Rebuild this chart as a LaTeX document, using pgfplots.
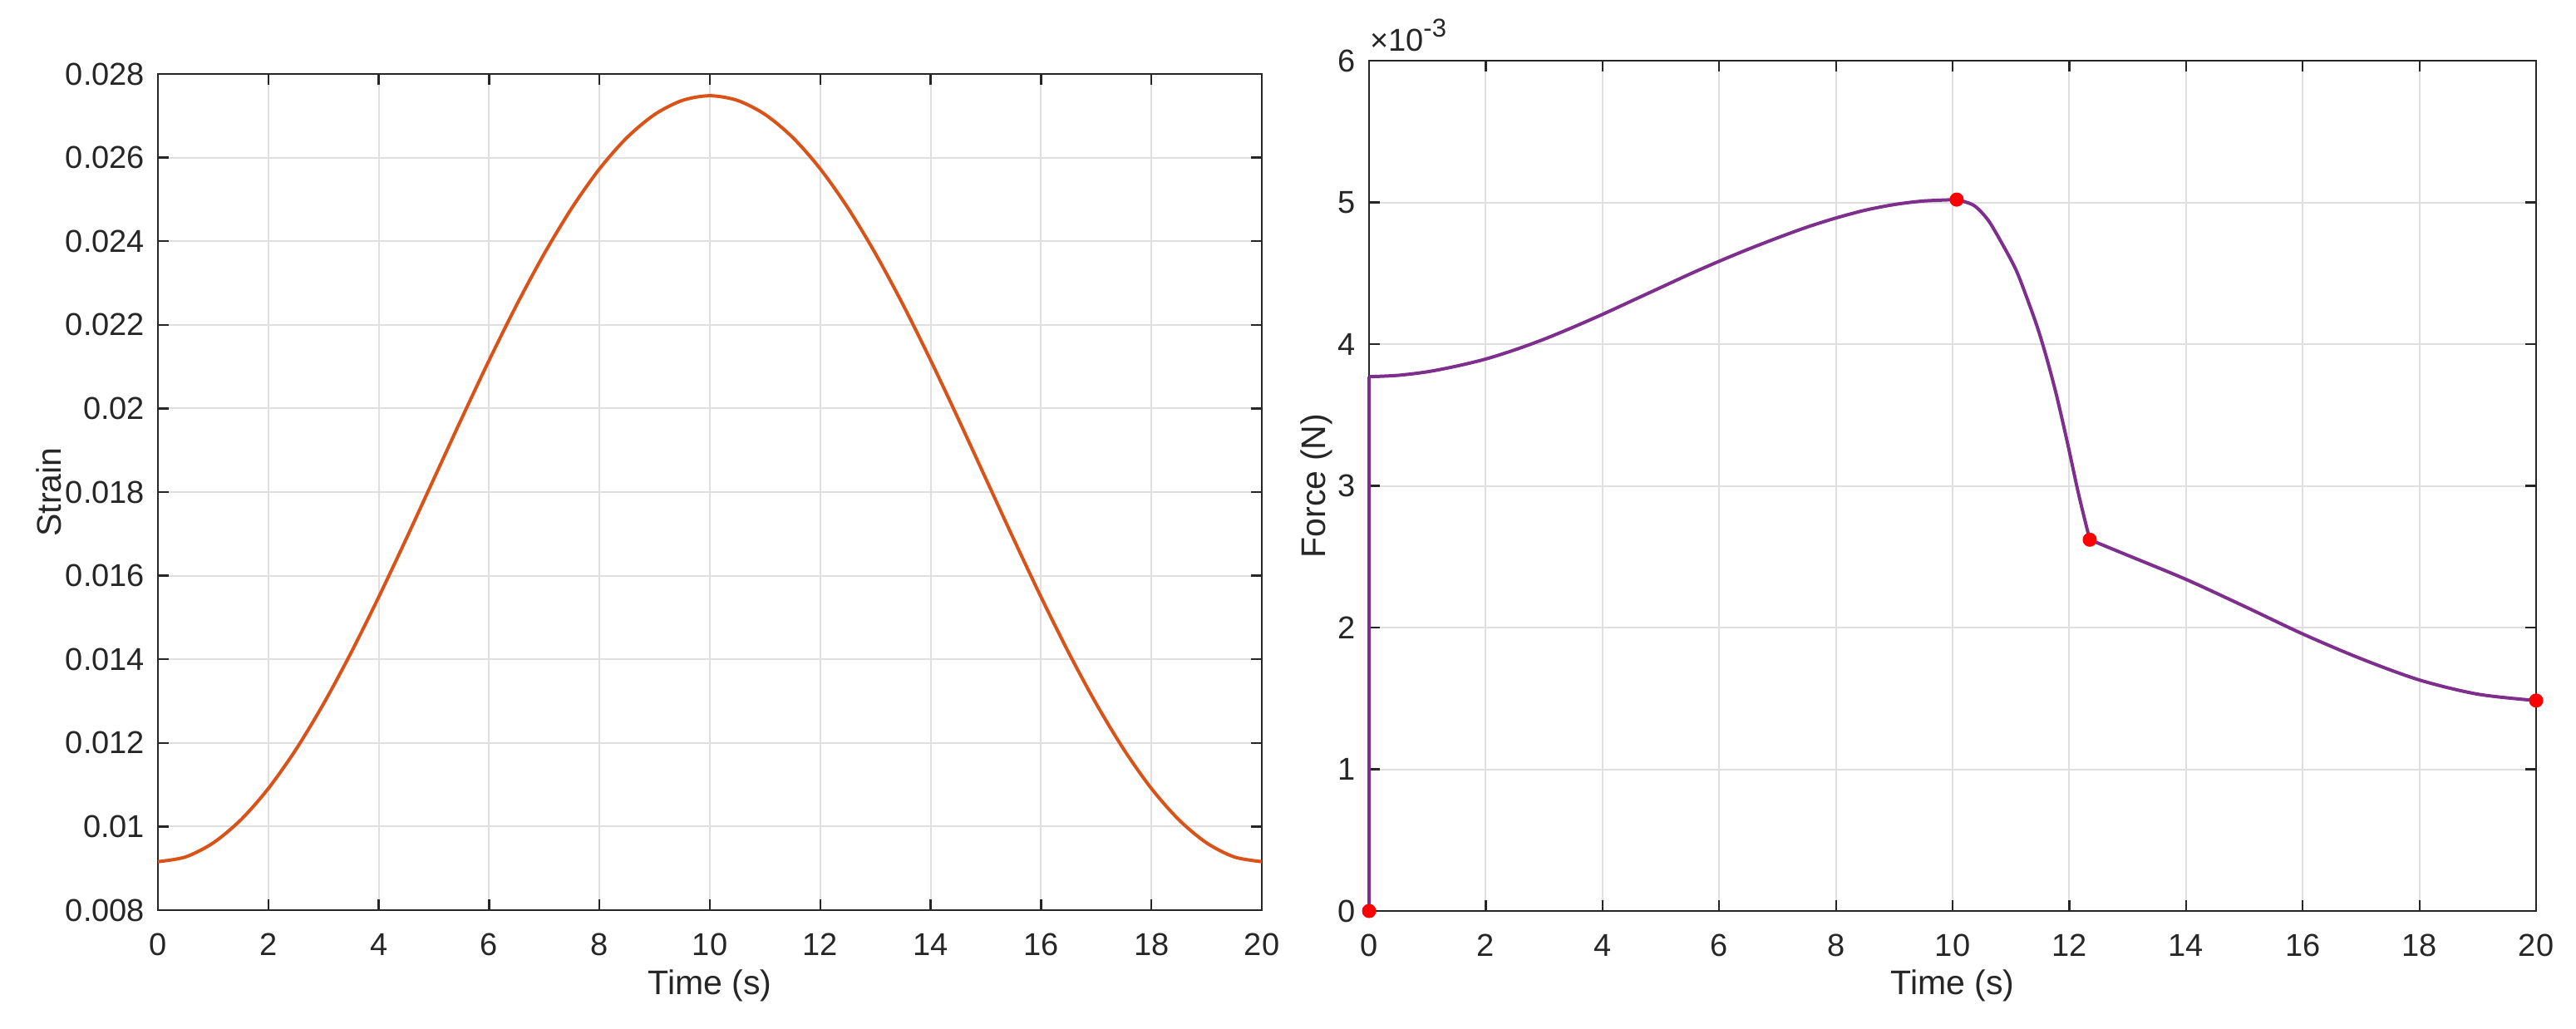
\documentclass[border=0pt]{standalone}
\usepackage{fontspec}
\setmainfont{Liberation Sans}
\usepackage{pgfplots}
\pgfplotsset{compat=1.18}
\definecolor{txt}{RGB}{38,38,38}
\definecolor{gridc}{RGB}{223,223,223}
\definecolor{mlorange}{RGB}{217,83,25}
\definecolor{mlpurple}{RGB}{126,47,142}
\pgfplotsset{
  mystyle/.style={
    scale only axis,
    anchor=south west,
    clip=false,
    scaled x ticks=false,
    scaled y ticks=false,
    axis line style={txt, line width=0.45pt},
    tick style={txt, line width=0.45pt},
    major tick length=2.6pt,
    grid=major,
    major grid style={gridc, line width=0.4pt},
    tick label style={font=\fontsize{7.6}{8}\selectfont, text=txt},
    label style={font=\fontsize{8.2}{9}\selectfont, text=txt},
    /pgf/number format/assume math mode=true,
    xmin=0, xmax=20,
    xtick={0,2,4,6,8,10,12,14,16,18,20},
    xticklabels={0,2,4,6,8,10,12,14,16,18,20},
    xticklabel style={anchor=north, inner sep=0pt, yshift=-5.4pt},
    yticklabel style={anchor=east, inner sep=0pt, xshift=-3pt},
    xlabel={Time (s)},
  }
}
\begin{document}
\begin{tikzpicture}
\useasboundingbox (0,0) rectangle (619.8pt,247.4pt);
% ---------- left: strain ----------
\begin{axis}[mystyle,
  at={(38pt,28.4pt)}, width=265.6pt, height=201.2pt,
  ymin=0.008, ymax=0.028,
  ytick={0.008,0.010,0.012,0.014,0.016,0.018,0.020,0.022,0.024,0.026,0.028},
  yticklabels={0.008,0.01,0.012,0.014,0.016,0.018,0.02,0.022,0.024,0.026,0.028},
  ylabel={Strain},
  ylabel style={at={(axis description cs:-0.0986,0.5)}, anchor=center},
  xlabel style={at={(axis description cs:0.5,-0.0905)}, anchor=center},
]
\addplot[mlorange, line width=0.8pt, smooth] coordinates {
(0,0.009160) (0.5,0.009273) (1,0.009608) (1.5,0.010158) (2,0.010909)
(2.5,0.011843) (3,0.012936) (3.5,0.014161) (4,0.015489) (4.5,0.016887)
(5,0.018320) (5.5,0.019753) (6,0.021151) (6.5,0.022479) (7,0.023704)
(7.5,0.024797) (8,0.025731) (8.5,0.026482) (9,0.027032) (9.5,0.027367)
(10,0.027480)
(10.5,0.027367) (11,0.027032) (11.5,0.026482) (12,0.025731) (12.5,0.024797)
(13,0.023704) (13.5,0.022479) (14,0.021151) (14.5,0.019753) (15,0.018320)
(15.5,0.016887) (16,0.015489) (16.5,0.014161) (17,0.012936) (17.5,0.011843)
(18,0.010909) (18.5,0.010158) (19,0.009608) (19.5,0.009273) (20,0.009160)
};
\end{axis}
% ---------- right: force ----------
\begin{axis}[mystyle,
  at={(329.4pt,28.2pt)}, width=280.8pt, height=204.6pt,
  ymin=0, ymax=0.006,
  ytick={0,0.001,0.002,0.003,0.004,0.005,0.006},
  yticklabels={0,1,2,3,4,5,6},
  ylabel={Force (N)},
  ylabel style={at={(axis description cs:-0.0449,0.5)}, anchor=center},
  xlabel style={at={(axis description cs:0.5,-0.088)}, anchor=center},
]
\addplot[mlpurple, line width=0.8pt] coordinates {(0,0) (0,0.00377)};
\addplot[mlpurple, line width=0.8pt, smooth] coordinates {
(0,0.003770) (0.5,0.003780) (1,0.003805) (1.5,0.003845) (2,0.003895)
(2.5,0.003960) (3,0.004035) (3.5,0.004120) (4,0.004210) (4.5,0.004305)
(5,0.004400) (5.5,0.004495) (6,0.004585) (6.5,0.004670) (7,0.004750)
(7.5,0.004825) (8,0.004890) (8.5,0.004945) (9,0.004985) (9.5,0.005010)
(10.07,0.005020)
};
\addplot[mlpurple, line width=0.8pt, smooth] coordinates {
(10.07,0.00502) (10.36,0.00498) (10.6,0.00488) (10.82,0.00473) (11.08,0.00453)
(11.27,0.00433) (11.46,0.00411) (11.62,0.00389) (11.78,0.00364) (11.97,0.00330)
(12.16,0.00294) (12.35,0.00262)
};
\addplot[mlpurple, line width=0.8pt, smooth] coordinates {
(12.35,0.00262) (13,0.00251) (14,0.00234) (15,0.00215) (16,0.001955)
(17,0.00178) (18,0.00163) (19,0.00153) (20,0.001485)
};
\addplot[only marks, mark=*, mark size=1.5pt, red, mark options={draw=red, fill=red}] coordinates {
(0,0) (10.07,0.00502) (12.35,0.00262) (20,0.001485)
};
\node[anchor=south west, inner sep=0pt, text=txt, font=\fontsize{7.6}{8}\selectfont] at (rel axis cs:0,1) [yshift=2pt] {×10\raisebox{0.85ex}{\fontsize{6.2}{6}\selectfont -3}};
\end{axis}
\end{tikzpicture}
\end{document}
